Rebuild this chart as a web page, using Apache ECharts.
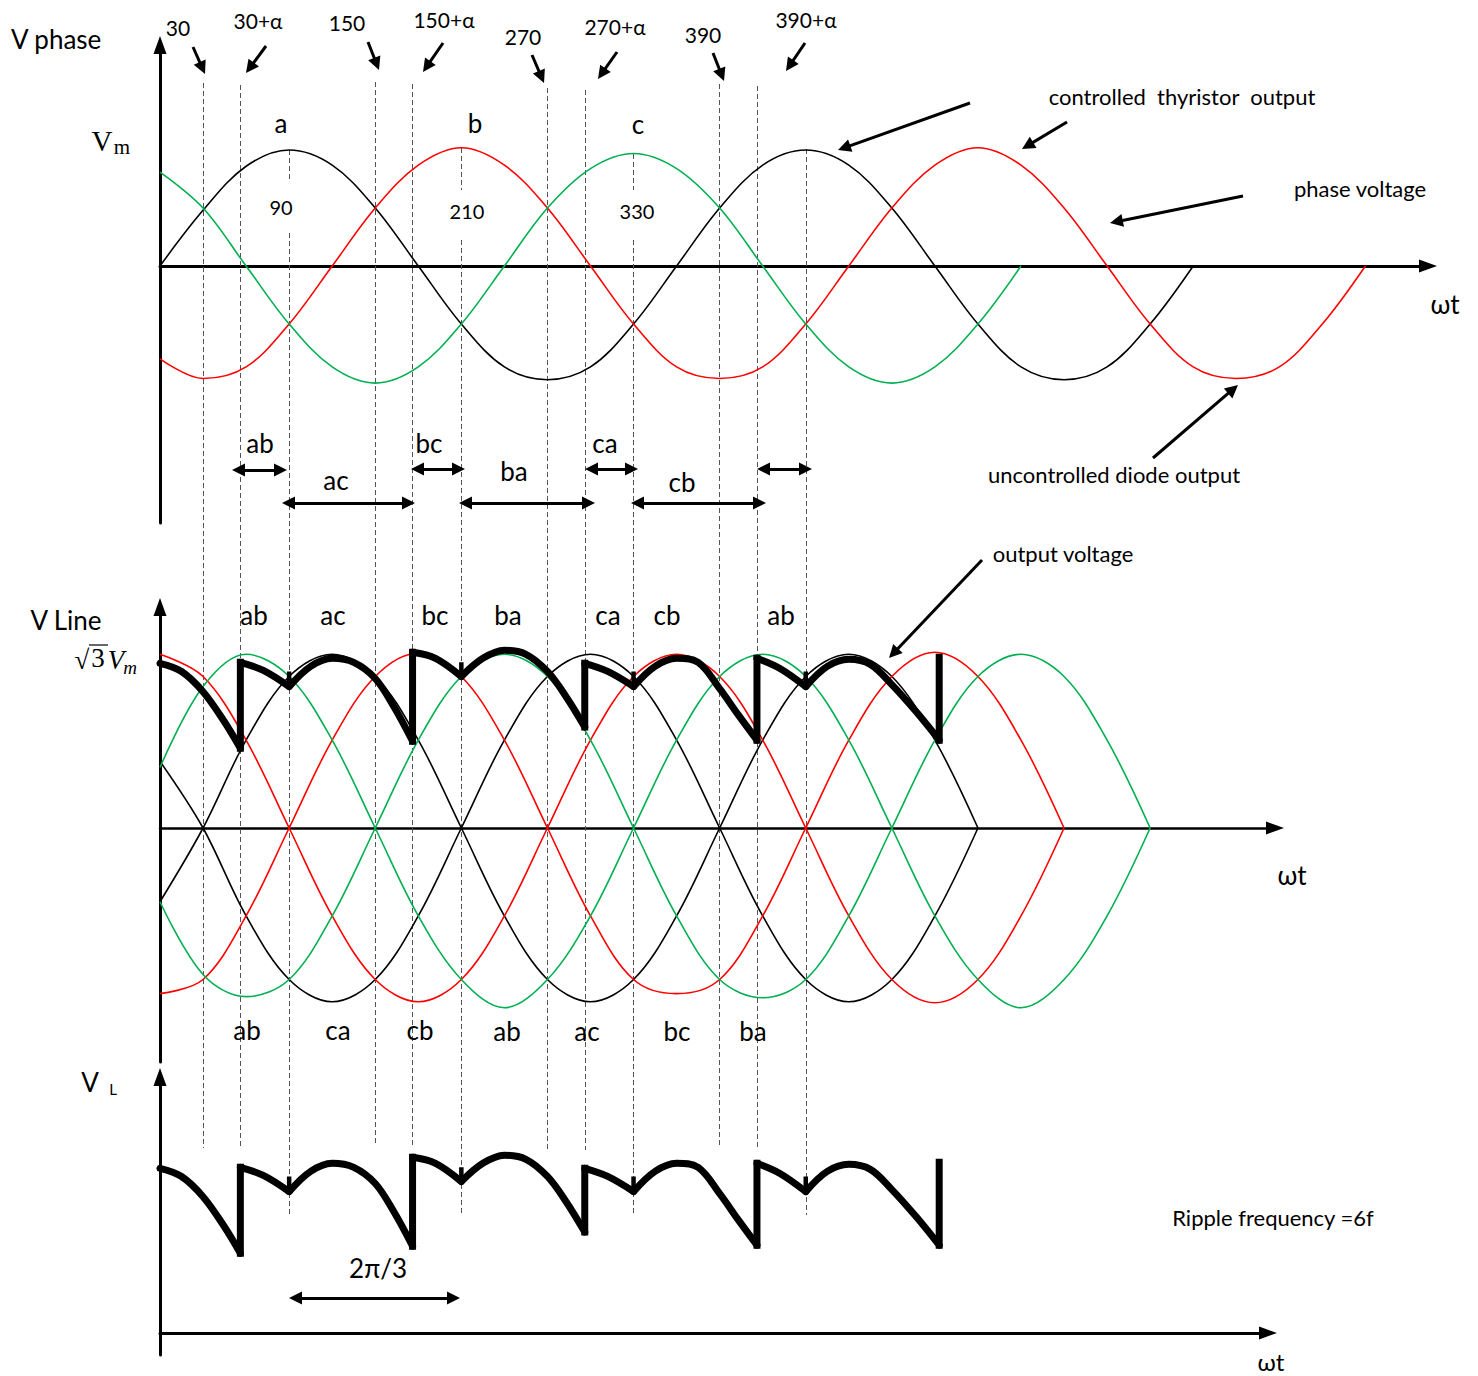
<!DOCTYPE html>
<html>
<head>
<meta charset="utf-8">
<title>Three-phase half-controlled bridge waveforms</title>
<script src="https://cdn.jsdelivr.net/npm/echarts@6/dist/echarts.min.js"></script>
<style>
  html, body { margin: 0; padding: 0; background: #fff; }
  #chart { width: 1478px; height: 1376px; }
</style>
</head>
<body>
<div id="chart"></div>
<script>
// ---------------- data: angles in electrical degrees, voltages in units of Vm ----------------
const STEP = 30;                              // spacing of the sampled waveform tables
const ALPHA = 26;                             // firing delay α
const firingAngles = [30, 150, 270, 390];     // natural commutation, thyristor group
const diodeAngles = [90, 210, 330, 450];      // natural commutation, diode group

// phase voltages a (black), b (red), c (green), sampled every STEP degrees from 0
const phaseA = [0, 0.48, 0.86, 1.0, 0.87, 0.5, 0, -0.5, -0.87, -0.98, -0.87, -0.5, 0,
                0.5, 0.87, 1.0, 0.87, 0.5, 0, -0.5, -0.87, -0.98, -0.87, -0.5, 0];
const phaseB = [-0.8, -0.97, -0.87, -0.5, 0, 0.5, 0.87, 1.02, 0.87, 0.5, 0, -0.5, -0.87, -0.97, -0.87,
                -0.5, 0, 0.5, 0.87, 1.02, 0.87, 0.5, 0, -0.5, -0.87, -0.97, -0.87, -0.5, 0];
const phaseC = [0.81, 0.5, 0, -0.5, -0.87, -1.01, -0.87, -0.5, 0, 0.5, 0.84,
                0.97, 0.84, 0.5, 0, -0.5, -0.87, -1.01, -0.87, -0.5, 0];

// line voltages, both polarities, sampled every STEP degrees from 0
const lineCA = [0.66, 0, -0.87, -1.5, -1.72, -1.5, -0.87, 0, 0.87, 1.5,
                1.72, 1.5, 0.87, 0, -0.87, -1.5, -1.72, -1.5, -0.87, 0];
const lineAC = [-0.73, 0, 0.87, 1.5, 1.72, 1.5, 0.87, 0, -0.87, -1.5,
                -1.72, -1.5, -0.87, 0, 0.87, 1.5, 1.72, 1.5, 0.87, 0];
const lineCB = [1.72, 1.5, 0.87, 0, -0.87, -1.5, -1.72, -1.5, -0.87, 0, 0.87,
                1.5, 1.72, 1.5, 0.87, 0, -0.87, -1.5, -1.73, -1.5, -0.87, 0];
const lineBC = [-1.64, -1.5, -0.87, 0, 0.87, 1.5, 1.73, 1.5, 0.87, 0, -0.87,
                -1.5, -1.64, -1.5, -0.87, 0, 0.87, 1.5, 1.74, 1.5, 0.87, 0];
const lineAB = [0.6, 1.4, 1.72, 1.5, 0.87, 0, -0.87, -1.5, -1.78, -1.5, -0.87, 0,
                0.87, 1.5, 1.72, 1.5, 0.87, 0, -0.87, -1.5, -1.78, -1.5, -0.87, 0];
const lineBA = [-0.73, -1.45, -1.67, -1.5, -0.87, 0, 0.87, 1.5, 1.72, 1.5, 0.87, 0,
                -0.87, -1.5, -1.68, -1.5, -0.87, 0, 0.87, 1.5, 1.72, 1.5, 0.87, 0];

// rectified output: pieces of the line voltages between commutations [angle, value]
const outputSegments = [
  [[0, 1.63], [15, 1.55], [30, 1.35], [45, 1.05], [56, 0.79]],
  [[56, 1.64], [72, 1.56], [90, 1.40]],
  [[90, 1.40], [105, 1.60], [120, 1.68], [135, 1.64], [150, 1.48], [163, 1.2], [176, 0.86]],
  [[176, 1.74], [192, 1.68], [210, 1.5]],
  [[210, 1.5], [225, 1.68], [240, 1.76], [255, 1.72], [270, 1.55], [283, 1.3], [296, 1.0]],
  [[296, 1.63], [312, 1.55], [330, 1.40]],
  [[330, 1.40], [345, 1.6], [360, 1.68], [375, 1.64], [390, 1.38], [403, 1.12], [416, 0.87]],
  [[416, 1.68], [432, 1.58], [450, 1.40]],
  [[450, 1.40], [465, 1.6], [480, 1.67], [495, 1.62], [510, 1.42], [527, 1.15], [543, 0.87]]
];
// thyristor firing steps
const jumpAngles = [56, 176, 296, 416, 543];
const jumpLow = [0.79, 0.86, 1.0, 0.87, 0.87];
const jumpHigh = [1.64, 1.74, 1.63, 1.68, 1.69];
// diode commutation cusps
const notchLow = [1.40, 1.5, 1.40, 1.40];
const notchTick = [1.55, 1.64, 1.55, 1.55];

// ---------------- layout ----------------
const DEG_PX = 1.435;          // pixels per electrical degree
const X0 = 160;                // position of ωt = 0
const ARROW_LEN = 18, ARROW_W = 13;
const BLACK = '#000000', RED = '#ff0000', GREEN = '#00b050', DASH = '#555555';
const FONT = 'Lato, "Open Sans", sans-serif';
const SERIF = '"Liberation Serif", "DejaVu Serif", serif';

const panels = [
  { tipY: 36, endY: 523, zeroY: 266, unitPx: 116, tipX: 1437, xw: 3, yw: 3 },
  { tipY: 598, endY: 1062, zeroY: 828, unitPx: 101, tipX: 1284, xw: 2.5, yw: 3 },
  { tipY: 1068, endY: 1355, zeroY: 1333, unitPx: 101, tipX: 1277, xw: 3, yw: 3 }
];

function arrowAxis(gridIndex, min, max, width, extra) {
  return Object.assign({
    type: 'value', gridIndex, min, max,
    axisLine: {
      show: true, onZero: true, symbol: ['none', 'triangle'], symbolSize: [ARROW_W, ARROW_LEN],
      lineStyle: { color: BLACK, width }
    },
    axisTick: { show: false }, axisLabel: { show: false }, splitLine: { show: false }
  }, extra || {});
}

const grids = [], xAxes = [], yAxes = [];
panels.forEach((p, i) => {
  const top = p.tipY + ARROW_LEN / 2;
  const right = p.tipX - ARROW_LEN / 2;
  grids.push({ left: X0, top, width: right - X0, height: p.endY - top });
  xAxes.push(arrowAxis(i, 0, (right - X0) / DEG_PX, p.xw));
  yAxes.push(arrowAxis(i, -(p.endY - p.zeroY) / p.unitPx, (p.zeroY - top) / p.unitPx, p.yw));
});
// overlay 3: degrees across, pixel rows down (reference lines spanning every panel)
grids.push({ left: X0, top: 0, width: 900 * DEG_PX, height: 1376 });
xAxes.push({ type: 'value', gridIndex: 3, min: 0, max: 900, show: false });
yAxes.push({ type: 'value', gridIndex: 3, min: 0, max: 1376, inverse: true, show: false });
// overlay 4: plain pixel frame for annotation arrows
grids.push({ left: 0, top: 0, width: 1478, height: 1376 });
xAxes.push({ type: 'value', gridIndex: 4, min: 0, max: 1478, show: false });
yAxes.push({ type: 'value', gridIndex: 4, min: 0, max: 1376, inverse: true, show: false });

// ---------------- series ----------------
const series = [];
const curve = (vals, color, g) => ({
  type: 'line', xAxisIndex: g, yAxisIndex: g, silent: true, symbol: 'none', smooth: 0.35, z: 3,
  data: vals.map((v, i) => [i * STEP, v]),
  lineStyle: { color, width: 1.6 }
});
series.push(curve(phaseA, BLACK, 0), curve(phaseB, RED, 0), curve(phaseC, GREEN, 0));
series.push(curve(lineCA, BLACK, 1), curve(lineAC, BLACK, 1),
            curve(lineCB, RED, 1), curve(lineBC, RED, 1),
            curve(lineAB, GREEN, 1), curve(lineBA, GREEN, 1));

[1, 2].forEach(g => {
  outputSegments.forEach(seg => series.push({
    type: 'line', xAxisIndex: g, yAxisIndex: g, silent: true, symbol: 'none', smooth: 0.35, z: 6,
    data: seg, lineStyle: { color: BLACK, width: 7, cap: 'round', join: 'round' }
  }));
  const steps = [];
  jumpAngles.forEach((a, i) => steps.push([a, jumpLow[i]], [a, jumpHigh[i]], [a, '-']));
  series.push({
    type: 'line', xAxisIndex: g, yAxisIndex: g, silent: true, symbol: 'none', z: 6,
    connectNulls: false, data: steps,
    lineStyle: { color: BLACK, width: 7, cap: 'square', join: 'miter' }
  });
  const ticks = [];
  diodeAngles.forEach((a, i) => ticks.push([a, notchLow[i]], [a, notchTick[i]], [a, '-']));
  series.push({
    type: 'line', xAxisIndex: g, yAxisIndex: g, silent: true, symbol: 'none', z: 6,
    connectNulls: false, data: ticks,
    lineStyle: { color: BLACK, width: 4.5, cap: 'butt' }
  });
});

// dashed reference lines at the commutation angles
const dashRuns = [];
const firingTops = [83, 82, 88, 84], firingBottoms = [1148, 1146, 1150, 1148];
firingAngles.forEach((a, i) => {
  dashRuns.push({ coords: [[a, firingTops[i]], [a, firingBottoms[i]]] });
  dashRuns.push({ coords: [[a + ALPHA, firingTops[i] + 2], [a + ALPHA, firingBottoms[i]]] });
});
const diodeRuns = [[[150, 180], [233, 1215]], [[148, 190], [240, 1215]], [[154, 190], [240, 1215]], [[149, 1215]]];
diodeAngles.forEach((a, i) => diodeRuns[i].forEach(r => dashRuns.push({ coords: [[a, r[0]], [a, r[1]]] })));
series.push({
  type: 'lines', coordinateSystem: 'cartesian2d', xAxisIndex: 3, yAxisIndex: 3, silent: true, z: 1,
  symbol: 'none', data: dashRuns,
  lineStyle: { color: DASH, width: 1, type: [5, 3], opacity: 1 }
});

// annotation arrows (pixel frame); arrow heads are centred on the end point, so pull it back
const HEAD = 13;
function arrowData(p, q, both) {
  const dx = q[0] - p[0], dy = q[1] - p[1], L = Math.hypot(dx, dy);
  const ux = dx / L, uy = dy / L, h = HEAD / 2;
  const a = both ? [p[0] + ux * h, p[1] + uy * h] : p;
  return { coords: [a, [q[0] - ux * h, q[1] - uy * h]] };
}
const singleArrows = [
  [[193, 47], [205, 74]], [[266, 46], [246, 73]], [[368, 42], [379, 70]], [[443, 43], [423, 72]],
  [[532, 55], [544, 83]], [[617, 52], [598, 79]], [[713, 53], [724, 81]], [[805, 43], [786, 71]],
  [[970, 103], [838, 150]], [[1067, 122], [1022, 149]], [[1243, 196], [1110, 223]],
  [[1153, 458], [1238, 385]], [[982, 560], [889, 658]]
];
const doubleArrows = [
  [[232, 470], [287, 470]], [[282, 503], [415, 503]], [[411, 469], [465, 469]],
  [[459, 503], [595, 503]], [[585, 469], [638, 469]], [[631, 503], [766, 503]],
  [[757, 469], [812, 469]], [[289, 1298], [460, 1298]]
];
series.push({
  type: 'lines', coordinateSystem: 'cartesian2d', xAxisIndex: 4, yAxisIndex: 4, silent: true, z: 8,
  symbol: ['none', 'triangle'], symbolSize: HEAD,
  data: singleArrows.map(s => arrowData(s[0], s[1], false)),
  lineStyle: { color: BLACK, width: 3, opacity: 1 }
});
series.push({
  type: 'lines', coordinateSystem: 'cartesian2d', xAxisIndex: 4, yAxisIndex: 4, silent: true, z: 8,
  symbol: ['triangle', 'triangle'], symbolSize: HEAD,
  data: doubleArrows.map(s => arrowData(s[0], s[1], true)),
  lineStyle: { color: BLACK, width: 3, opacity: 1 }
});

// ---------------- text ----------------
function T(text, x, y, size, opts) {
  const o = opts || {};
  const align = o.align || 'center';
  return {
    type: 'text', x, y, z: 100, silent: true,
    style: {
      text, fill: BLACK,
      font: (o.style || '') + ' ' + size + 'px ' + (o.family || FONT),
      textAlign: align, align, textVerticalAlign: 'middle', verticalAlign: 'middle'
    }
  };
}
const texts = [
  T('V phase', 11, 39, 26, { align: 'left' }),
  T('30', 178, 27, 21), T('30+α', 258, 20, 21), T('150', 347, 22, 21), T('150+α', 444, 19, 21),
  T('270', 523, 36, 21), T('270+α', 615, 26, 21), T('390', 703, 34, 21), T('390+α', 806, 19, 21),
  T('V', 102, 141, 29, { family: SERIF }), T('m', 122, 147, 21, { family: SERIF }),
  T('a', 281, 123, 26), T('b', 475, 123, 26), T('c', 638, 124, 26),
  T('90', 281, 207, 20), T('210', 467, 211, 20), T('330', 637, 211, 20),
  T('ab', 260, 443, 26), T('ac', 336, 480, 26), T('bc', 429, 443, 26),
  T('ba', 514, 471, 26), T('ca', 605, 443, 26), T('cb', 682, 482, 26),
  T('controlled  thyristor  output', 1182, 96, 22),
  T('phase voltage', 1360, 188, 22),
  T('uncontrolled diode output', 1114, 474, 22),
  T('ωt', 1445, 304, 26),
  T('V Line', 66, 620, 26),
  T('√', 82, 660, 27, { family: SERIF }), T('3', 98, 658, 27, { family: SERIF }),
  T('V', 116, 660, 27, { family: SERIF, style: 'italic' }), T('m', 130, 667, 19, { family: SERIF, style: 'italic' }),
  T('ab', 254, 615, 26), T('ac', 333, 615, 26), T('bc', 435, 615, 26), T('ba', 508, 615, 26),
  T('ca', 608, 615, 26), T('cb', 667, 615, 26), T('ab', 781, 615, 26),
  T('output voltage', 1063, 553, 22),
  T('ωt', 1292, 875, 26),
  T('ab', 247, 1030, 26), T('ca', 338, 1030, 26), T('cb', 420, 1030, 26), T('ab', 507, 1031, 26),
  T('ac', 587, 1031, 26), T('bc', 677, 1031, 26), T('ba', 753, 1031, 26),
  T('V', 90, 1082, 26), T('L', 113, 1089, 15),
  T('2π/3', 378, 1268, 26),
  T('Ripple frequency =6f', 1273, 1217, 22),
  T('ωt', 1271, 1361, 24)
];
// vinculum over the 3 of √3
texts.push({ type: 'line', z: 100, silent: true, shape: { x1: 89, y1: 645, x2: 108, y2: 645 },
             style: { stroke: BLACK, lineWidth: 1.2 } });

const chart = echarts.init(document.getElementById('chart'), null, { renderer: 'svg' });
chart.setOption({
  animation: false,
  backgroundColor: '#ffffff',
  grid: grids,
  xAxis: xAxes,
  yAxis: yAxes,
  series,
  graphic: texts
});
</script>
</body>
</html>
